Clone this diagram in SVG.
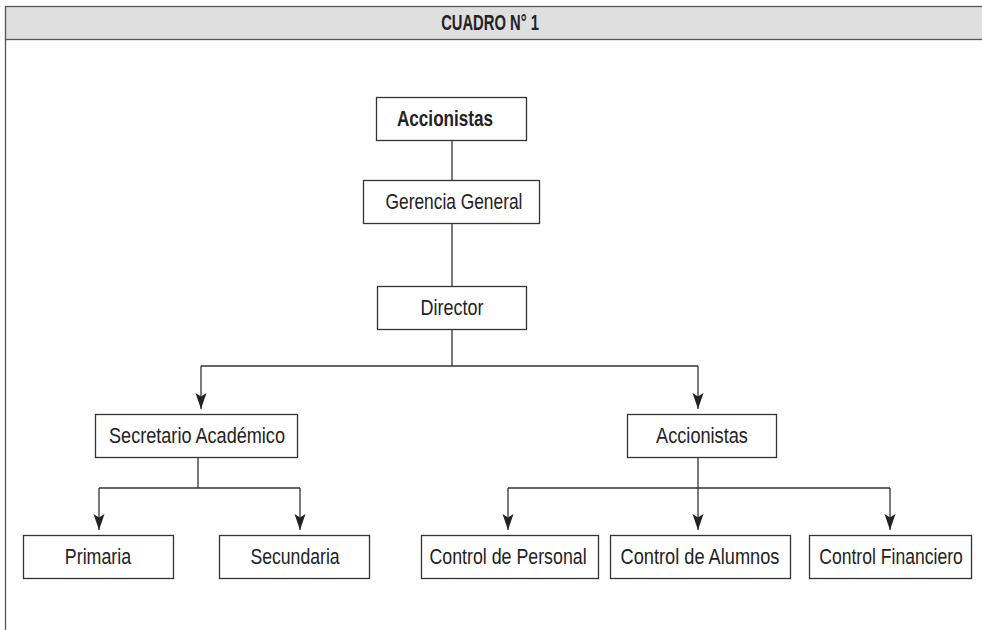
<svg xmlns="http://www.w3.org/2000/svg" width="982" height="630" viewBox="0 0 982 630">
<defs>
<marker id="arr" markerUnits="userSpaceOnUse" markerWidth="18" markerHeight="14" viewBox="-17 -7 18 14" refX="0" refY="0" orient="auto">
<path d="M0,0 L-16,-5.5 L-12.5,0 L-16,5.5 Z" fill="#222"/>
</marker>
</defs>
<style>
.box{fill:#fff;stroke:#333;stroke-width:1.3}
.t{font-family:"Liberation Sans",Arial,sans-serif;font-size:22px;fill:#222;text-anchor:middle}
.b{font-weight:bold}
.ln{fill:none;stroke:#333;stroke-width:1.3}
.ar{fill:none;stroke:#333;stroke-width:1.3;marker-end:url(#arr)}
</style>
<rect width="982" height="630" fill="#fff"/>
<g id="frame">
<rect x="5.5" y="6.5" width="990" height="33" fill="#dfdfe0" stroke="#555" stroke-width="1.3"/>
<line x1="5.5" y1="39.5" x2="5.5" y2="630" stroke="#555" stroke-width="1.3"/>
<text class="t b" transform="translate(490,30) scale(0.85,1)" font-size="19" textLength="115" lengthAdjust="spacingAndGlyphs">CUADRO N° 1</text>
</g>
<g id="connectors">
<line class="ln" x1="452" y1="141" x2="452" y2="180"/>
<line class="ln" x1="452" y1="224" x2="452" y2="286"/>
<path class="ln" d="M452,329 V366 M201,366 H698"/>
<line class="ar" x1="201" y1="366" x2="201" y2="409"/>
<line class="ar" x1="698" y1="366" x2="698" y2="409"/>
<path class="ln" d="M198,457 V488 M99,488 H300"/>
<line class="ar" x1="99" y1="488" x2="99" y2="530"/>
<line class="ar" x1="300" y1="488" x2="300" y2="530"/>
<path class="ln" d="M698,457 V488 M508,488 H890"/>
<line class="ar" x1="508" y1="488" x2="508" y2="530"/>
<line class="ar" x1="698" y1="488" x2="698" y2="530"/>
<line class="ar" x1="890" y1="488" x2="890" y2="530"/>
</g>
<g id="accionistas-top">
<rect class="box" x="376.5" y="97.5" width="150" height="43"/>
<text class="t b" transform="translate(445,126) scale(0.85,1)" textLength="113" lengthAdjust="spacingAndGlyphs">Accionistas</text>
</g>
<g id="gerencia">
<rect class="box" x="363.5" y="180.5" width="176" height="43"/>
<text class="t" transform="translate(454,209) scale(0.85,1)" textLength="161" lengthAdjust="spacingAndGlyphs">Gerencia General</text>
</g>
<g id="director">
<rect class="box" x="377.5" y="286.5" width="149" height="43"/>
<text class="t" transform="translate(452,315) scale(0.85,1)" textLength="74" lengthAdjust="spacingAndGlyphs">Director</text>
</g>
<g id="secretario">
<rect class="box" x="95.5" y="414.5" width="202" height="43"/>
<text class="t" transform="translate(197,443) scale(0.85,1)" textLength="207" lengthAdjust="spacingAndGlyphs">Secretario Académico</text>
</g>
<g id="accionistas-right">
<rect class="box" x="627.5" y="414.5" width="149" height="43"/>
<text class="t" transform="translate(702,443) scale(0.85,1)" textLength="108" lengthAdjust="spacingAndGlyphs">Accionistas</text>
</g>
<g id="primaria">
<rect class="box" x="23.5" y="535.5" width="150" height="43"/>
<text class="t" transform="translate(98,564) scale(0.85,1)" textLength="78" lengthAdjust="spacingAndGlyphs">Primaria</text>
</g>
<g id="secundaria">
<rect class="box" x="219.5" y="535.5" width="150" height="43"/>
<text class="t" transform="translate(295,564) scale(0.85,1)" textLength="105" lengthAdjust="spacingAndGlyphs">Secundaria</text>
</g>
<g id="control-personal">
<rect class="box" x="421.5" y="535.5" width="177" height="43"/>
<text class="t" transform="translate(508,564) scale(0.85,1)" textLength="185" lengthAdjust="spacingAndGlyphs">Control de Personal</text>
</g>
<g id="control-alumnos">
<rect class="box" x="610.5" y="535.5" width="180" height="43"/>
<text class="t" transform="translate(700,564) scale(0.85,1)" textLength="187" lengthAdjust="spacingAndGlyphs">Control de Alumnos</text>
</g>
<g id="control-financiero">
<rect class="box" x="809.5" y="535.5" width="162" height="43"/>
<text class="t" transform="translate(891,564) scale(0.85,1)" textLength="169" lengthAdjust="spacingAndGlyphs">Control Financiero</text>
</g>
</svg>
